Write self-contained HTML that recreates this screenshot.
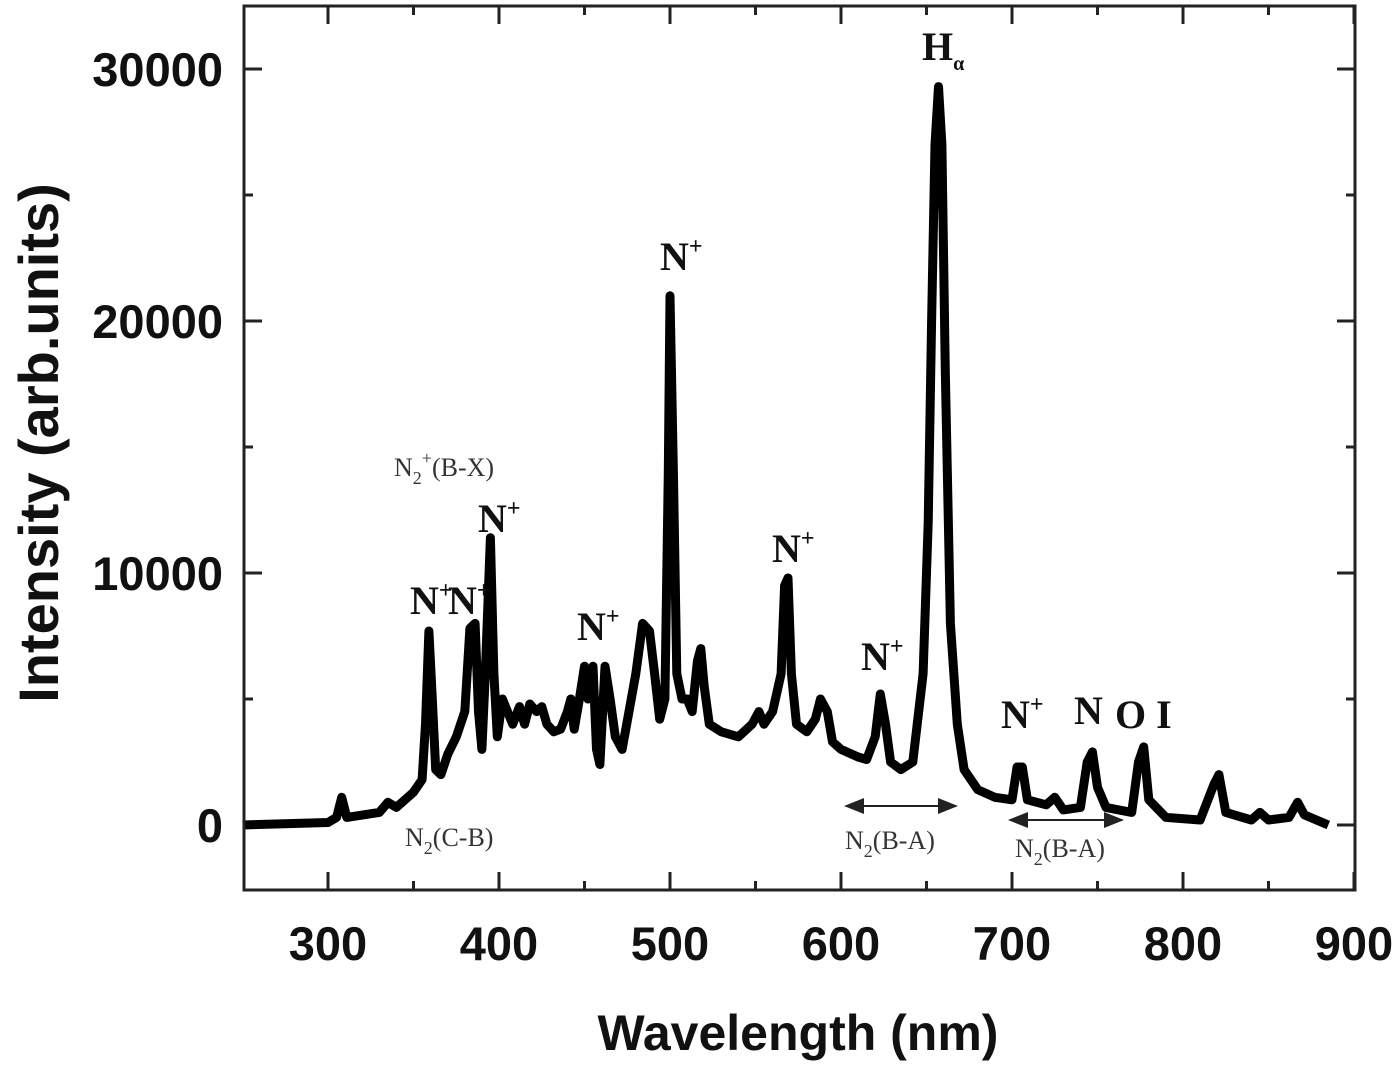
<!DOCTYPE html>
<html><head><meta charset="utf-8"><style>
html,body{margin:0;padding:0;background:#fff}
svg{display:block}
.tk{font-family:"Liberation Sans",Arial,sans-serif;font-weight:bold;font-size:47px;fill:#111}
.ann{font-family:"Liberation Serif",serif;font-weight:bold;font-size:40px;fill:#111}
.ann2{font-family:"Liberation Serif",serif;font-size:26px;fill:#333}
</style></head><body>
<svg id="chart" width="1400" height="1068" viewBox="0 0 1400 1068">
<defs><marker id="ah" markerWidth="10" markerHeight="8" refX="9" refY="4" orient="auto-start-reverse"><path d="M0,0 L10,4 L0,8 z" fill="#222"/></marker></defs>
<g id="ticks"></g>
<path id="spec" fill="none" stroke="#000" stroke-width="9" stroke-linejoin="round"/>
<rect x="244" y="6" width="1111" height="884" fill="none" stroke="#222" stroke-width="3"/>
<g id="xlabels"></g>
<g id="ylabels"></g>
<text x="798" y="1050" text-anchor="middle" class="tk" style="font-size:50px">Wavelength (nm)</text>
<text transform="translate(58,443) rotate(-90)" text-anchor="middle" class="tk" style="font-size:56px">Intensity (arb.units)</text>
<g>
<text x="410" y="614" class="ann">N<tspan dy="-16" font-size="24">+</tspan></text>
<text x="448" y="614" class="ann">N<tspan dy="-16" font-size="24">+</tspan></text>
<text x="478" y="532" class="ann">N<tspan dy="-16" font-size="24">+</tspan></text>
<text x="577" y="640" class="ann">N<tspan dy="-16" font-size="24">+</tspan></text>
<text x="660" y="270" class="ann">N<tspan dy="-16" font-size="24">+</tspan></text>
<text x="772" y="562" class="ann">N<tspan dy="-16" font-size="24">+</tspan></text>
<text x="861" y="670" class="ann">N<tspan dy="-16" font-size="24">+</tspan></text>
<text x="1001" y="728" class="ann">N<tspan dy="-16" font-size="24">+</tspan></text>
<text x="1074" y="724" class="ann">N</text>
<text x="1115" y="728" class="ann">O I</text>
<text x="922" y="60" class="ann">H<tspan dy="10" font-size="20">α</tspan></text>
<text x="394" y="476" class="ann2">N<tspan dy="8" font-size="18">2</tspan><tspan dy="-20" font-size="18">+</tspan><tspan dy="12">(B-X)</tspan></text>
<text x="405" y="846" class="ann2">N<tspan dy="8" font-size="18">2</tspan><tspan dy="-8">(C-B)</tspan></text>
<text x="845" y="849" class="ann2">N<tspan dy="8" font-size="18">2</tspan><tspan dy="-8">(B-A)</tspan></text>
<text x="1015" y="857" class="ann2">N<tspan dy="8" font-size="18">2</tspan><tspan dy="-8">(B-A)</tspan></text>
<line x1="846" y1="806" x2="956" y2="806" stroke="#222" stroke-width="2" marker-start="url(#ah)" marker-end="url(#ah)"/>
<line x1="1010" y1="820" x2="1122" y2="820" stroke="#222" stroke-width="2" marker-start="url(#ah)" marker-end="url(#ah)"/>
</g>
</svg>
<script>
const wavelengths=[250,300,305,308,311,330,335,340,345,350,355,357,359,361,363,366,370,375,380,383,386,388,390,392,395,397,399,402,405,408,412,415,418,422,425,428,432,436,440,442,444,447,450,452,455,457,459,462,465,468,472,476,480,484,488,491,494,497,499,500,502,504,507,510,513,516,518,520,523,530,540,548,552,555,560,565,567,569,571,574,580,585,588,592,595,600,610,615,620,623,626,629,635,642,648,651,653,655,657,659,661,664,668,672,680,690,700,703,706,709,720,725,730,740,744,747,750,755,770,774,777,780,790,810,818,821,825,840,845,850,862,867,871,885];
const intensities=[0,100,300,1100,300,500,900,700,1000,1300,1800,4000,7700,5000,2200,2000,2800,3500,4500,7800,8000,4500,3000,6000,11400,6000,3500,5000,4500,4000,4700,4000,4800,4500,4700,4000,3700,3800,4500,5000,3800,5000,6300,5000,6300,3000,2400,6300,5000,3500,3000,4500,6000,8000,7700,6000,4200,5000,14000,21000,14000,6000,5000,5000,4500,6500,7000,5500,4000,3700,3500,4000,4500,4000,4500,6000,9500,9800,6000,4000,3700,4200,5000,4500,3300,3000,2700,2600,3500,5200,4000,2500,2200,2500,6000,12000,20000,27000,29300,27000,18000,8000,4000,2200,1400,1100,1000,2300,2300,1000,800,1100,600,700,2500,2900,1500,700,500,2500,3100,1000,300,200,1600,2000,500,200,500,200,300,900,400,0];
const xTicks=[300,400,500,600,700,800,900];
const yTicks=[0,10000,20000,30000];
const X=w=>328+(w-300)*1.71;
const Y=v=>825-v*0.0252;
const ns='http://www.w3.org/2000/svg';
let d='';
wavelengths.forEach((w,i)=>{d+=(i?'L':'M')+X(w).toFixed(1)+','+Y(intensities[i]).toFixed(1);});
document.getElementById('spec').setAttribute('d',d);
const tg=document.getElementById('ticks');
function ln(x1,y1,x2,y2){const l=document.createElementNS(ns,'line');l.setAttribute('x1',x1);l.setAttribute('y1',y1);l.setAttribute('x2',x2);l.setAttribute('y2',y2);l.setAttribute('stroke','#222');l.setAttribute('stroke-width','3');


tg.appendChild(l);}
for(let w=300;w<=900;w+=50){const L=(w%100===0)?18:9;const x=X(w);ln(x,890,x,890-L);ln(x,6,x,6+L);}
for(let v=0;v<=32500;v+=5000){const L=(v%10000===0)?18:9;const y=Y(v);ln(244,y,244+L,y);ln(1355,y,1355-L,y);}
const xl=document.getElementById('xlabels');
xTicks.forEach(t=>{const e=document.createElementNS(ns,'text');e.setAttribute('x',X(t));e.setAttribute('y',960);e.setAttribute('text-anchor','middle');e.setAttribute('class','tk');e.textContent=t;


xl.appendChild(e);});
const yl=document.getElementById('ylabels');
yTicks.forEach(t=>{const e=document.createElementNS(ns,'text');e.setAttribute('x',223);e.setAttribute('y',Y(t)+17);e.setAttribute('text-anchor','end');e.setAttribute('class','tk');e.textContent=t;


yl.appendChild(e);});
</script>
</body></html>
